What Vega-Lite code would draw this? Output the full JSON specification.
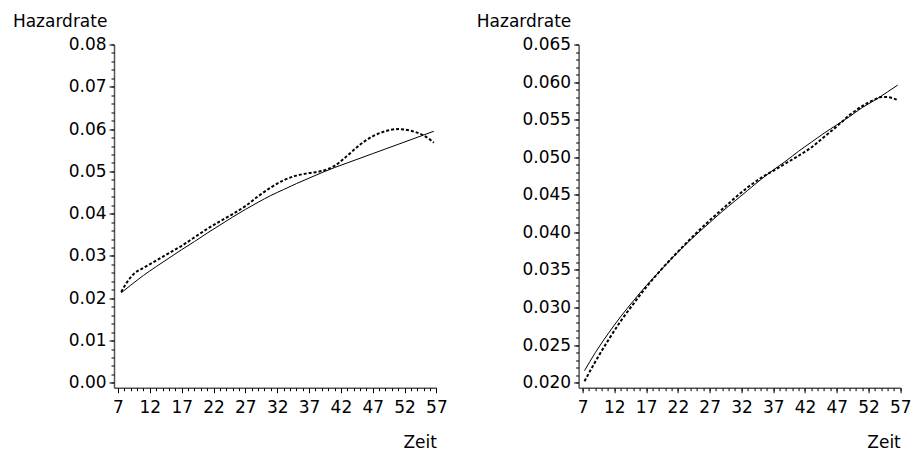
{
  "$schema": "https://vega.github.io/schema/vega-lite/v6.json",
  "background": "white",
  "padding": {"left": 12, "top": 12.5, "right": 6, "bottom": 4},
  "bounds": "flush",
  "spacing": 141.6,
  "config": {
    "font": "DejaVu Sans",
    "view": {"stroke": null},
    "axis": {
      "grid": false,
      "labelFont": "DejaVu Sans",
      "labelFontSize": 17,
      "labelColor": "black",
      "titleFont": "DejaVu Sans",
      "titleFontSize": 17,
      "titleFontWeight": "normal",
      "titleColor": "black",
      "domainColor": "#555555",
      "domainWidth": 1.5,
      "tickColor": "black",
      "tickWidth": 1
    }
  },
  "datasets": {
    "left": [
      {"t": 7.5, "h": 0.0213, "s": "solid"},
      {"t": 9, "h": 0.0231, "s": "solid"},
      {"t": 11, "h": 0.0254, "s": "solid"},
      {"t": 13, "h": 0.0275, "s": "solid"},
      {"t": 15, "h": 0.0295, "s": "solid"},
      {"t": 17, "h": 0.0315, "s": "solid"},
      {"t": 19, "h": 0.0334, "s": "solid"},
      {"t": 21, "h": 0.0354, "s": "solid"},
      {"t": 23, "h": 0.0373, "s": "solid"},
      {"t": 25, "h": 0.0392, "s": "solid"},
      {"t": 27, "h": 0.0410, "s": "solid"},
      {"t": 29, "h": 0.0427, "s": "solid"},
      {"t": 31, "h": 0.0443, "s": "solid"},
      {"t": 33, "h": 0.0457, "s": "solid"},
      {"t": 35, "h": 0.0471, "s": "solid"},
      {"t": 37, "h": 0.0484, "s": "solid"},
      {"t": 39, "h": 0.0497, "s": "solid"},
      {"t": 41, "h": 0.0509, "s": "solid"},
      {"t": 43, "h": 0.0520, "s": "solid"},
      {"t": 45, "h": 0.0531, "s": "solid"},
      {"t": 47, "h": 0.0542, "s": "solid"},
      {"t": 49, "h": 0.0553, "s": "solid"},
      {"t": 51, "h": 0.0564, "s": "solid"},
      {"t": 53, "h": 0.0575, "s": "solid"},
      {"t": 55, "h": 0.0586, "s": "solid"},
      {"t": 56.6, "h": 0.0595, "s": "solid"},
      {"t": 7.5, "h": 0.0215, "s": "dotted"},
      {"t": 8.5, "h": 0.0240, "s": "dotted"},
      {"t": 9.6, "h": 0.0259, "s": "dotted"},
      {"t": 11, "h": 0.0272, "s": "dotted"},
      {"t": 13, "h": 0.0289, "s": "dotted"},
      {"t": 15, "h": 0.0307, "s": "dotted"},
      {"t": 17, "h": 0.0324, "s": "dotted"},
      {"t": 19, "h": 0.0344, "s": "dotted"},
      {"t": 21, "h": 0.0364, "s": "dotted"},
      {"t": 23, "h": 0.0382, "s": "dotted"},
      {"t": 25, "h": 0.0399, "s": "dotted"},
      {"t": 27, "h": 0.0418, "s": "dotted"},
      {"t": 29, "h": 0.0441, "s": "dotted"},
      {"t": 31, "h": 0.0462, "s": "dotted"},
      {"t": 33, "h": 0.0479, "s": "dotted"},
      {"t": 35, "h": 0.0490, "s": "dotted"},
      {"t": 37, "h": 0.0496, "s": "dotted"},
      {"t": 39, "h": 0.0501, "s": "dotted"},
      {"t": 41, "h": 0.0513, "s": "dotted"},
      {"t": 43, "h": 0.0537, "s": "dotted"},
      {"t": 45, "h": 0.0563, "s": "dotted"},
      {"t": 47, "h": 0.0583, "s": "dotted"},
      {"t": 49, "h": 0.0595, "s": "dotted"},
      {"t": 51, "h": 0.0600, "s": "dotted"},
      {"t": 53, "h": 0.0596, "s": "dotted"},
      {"t": 55, "h": 0.0585, "s": "dotted"},
      {"t": 56.6, "h": 0.0568, "s": "dotted"}
    ],
    "right": [
      {"t": 7.3, "h": 0.0216, "s": "solid"},
      {"t": 9, "h": 0.0240, "s": "solid"},
      {"t": 11, "h": 0.0265, "s": "solid"},
      {"t": 13, "h": 0.0288, "s": "solid"},
      {"t": 15, "h": 0.0309, "s": "solid"},
      {"t": 17, "h": 0.0329, "s": "solid"},
      {"t": 19, "h": 0.0347, "s": "solid"},
      {"t": 21, "h": 0.0365, "s": "solid"},
      {"t": 23, "h": 0.0382, "s": "solid"},
      {"t": 25, "h": 0.0398, "s": "solid"},
      {"t": 27, "h": 0.0413, "s": "solid"},
      {"t": 29, "h": 0.0428, "s": "solid"},
      {"t": 31, "h": 0.0442, "s": "solid"},
      {"t": 33, "h": 0.0456, "s": "solid"},
      {"t": 35, "h": 0.0470, "s": "solid"},
      {"t": 37, "h": 0.0483, "s": "solid"},
      {"t": 39, "h": 0.0495, "s": "solid"},
      {"t": 41, "h": 0.0508, "s": "solid"},
      {"t": 43, "h": 0.0520, "s": "solid"},
      {"t": 45, "h": 0.0532, "s": "solid"},
      {"t": 47, "h": 0.0543, "s": "solid"},
      {"t": 49, "h": 0.0554, "s": "solid"},
      {"t": 51, "h": 0.0566, "s": "solid"},
      {"t": 53, "h": 0.0576, "s": "solid"},
      {"t": 55, "h": 0.0587, "s": "solid"},
      {"t": 56.6, "h": 0.0596, "s": "solid"},
      {"t": 7.3, "h": 0.0202, "s": "dotted"},
      {"t": 9, "h": 0.0228, "s": "dotted"},
      {"t": 11, "h": 0.0256, "s": "dotted"},
      {"t": 13, "h": 0.0282, "s": "dotted"},
      {"t": 15, "h": 0.0305, "s": "dotted"},
      {"t": 17, "h": 0.0327, "s": "dotted"},
      {"t": 19, "h": 0.0347, "s": "dotted"},
      {"t": 21, "h": 0.03655, "s": "dotted"},
      {"t": 23, "h": 0.0383, "s": "dotted"},
      {"t": 25, "h": 0.0400, "s": "dotted"},
      {"t": 27, "h": 0.0416, "s": "dotted"},
      {"t": 29, "h": 0.0431, "s": "dotted"},
      {"t": 31, "h": 0.0446, "s": "dotted"},
      {"t": 33, "h": 0.0460, "s": "dotted"},
      {"t": 35, "h": 0.0472, "s": "dotted"},
      {"t": 37, "h": 0.0482, "s": "dotted"},
      {"t": 39, "h": 0.0492, "s": "dotted"},
      {"t": 41, "h": 0.0502, "s": "dotted"},
      {"t": 43, "h": 0.0513, "s": "dotted"},
      {"t": 45, "h": 0.0527, "s": "dotted"},
      {"t": 47, "h": 0.0541, "s": "dotted"},
      {"t": 49, "h": 0.0556, "s": "dotted"},
      {"t": 51, "h": 0.0568, "s": "dotted"},
      {"t": 53, "h": 0.0577, "s": "dotted"},
      {"t": 54, "h": 0.0580, "s": "dotted"},
      {"t": 55, "h": 0.0580, "s": "dotted"},
      {"t": 56, "h": 0.0578, "s": "dotted"},
      {"t": 56.6, "h": 0.0576, "s": "dotted"}
    ]
  },
  "hconcat": [
    {
      "width": 322.4,
      "height": 343.2,
      "data": {"name": "left"},
      "layer": [
        {
          "transform": [{"filter": "datum.s == 'solid'"}],
          "mark": {"type": "line", "color": "black", "strokeWidth": 1, "interpolate": "monotone"},
          "encoding": {
            "x": {
              "field": "t", "type": "quantitative",
              "scale": {"domain": [6.37, 57], "nice": false, "zero": false},
              "axis": {
                "orient": "bottom",
                "values": [7, 12, 17, 22, 27, 32, 37, 42, 47, 52, 57],
                "tickSize": 5, "labelPadding": 7, "labelFlush": false,
                "title": "Zeit", "titleAlign": "right", "titleAnchor": null,
                "titleX": 322.4, "titleY": 60, "titleBaseline": "alphabetic"
              }
            },
            "y": {
              "field": "h", "type": "quantitative",
              "scale": {"domain": [-0.00114, 0.08], "nice": false, "zero": false},
              "axis": {
                "orient": "left",
                "values": [0, 0.01, 0.02, 0.03, 0.04, 0.05, 0.06, 0.07, 0.08],
                "format": ".2f", "tickSize": 5, "labelPadding": 3, "labelFlush": false,
                "title": "Hazardrate", "titleAngle": 0, "titleAlign": "left",
                "titleBaseline": "alphabetic", "titleAnchor": null,
                "titleX": -101.6, "titleY": -17.5
              }
            }
          }
        },
        {
          "transform": [{"filter": "datum.s == 'dotted'"}],
          "mark": {"type": "line", "color": "black", "strokeWidth": 2, "strokeDash": [3, 2], "interpolate": "monotone"},
          "encoding": {
            "x": {
              "field": "t", "type": "quantitative",
              "axis": {
                "orient": "bottom",
                "values": [7, 8, 9, 10, 11, 12, 13, 14, 15, 16, 17, 18, 19, 20, 21, 22, 23, 24, 25, 26, 27, 28, 29, 30, 31, 32, 33, 34, 35, 36, 37, 38, 39, 40, 41, 42, 43, 44, 45, 46, 47, 48, 49, 50, 51, 52, 53, 54, 55, 56, 57],
                "tickSize": 3, "labels": false, "domain": false, "title": null
              }
            },
            "y": {
              "field": "h", "type": "quantitative",
              "axis": {
                "orient": "left",
                "values": [0, 0.002, 0.004, 0.006, 0.008, 0.01, 0.012, 0.014, 0.016, 0.018, 0.02, 0.022, 0.024, 0.026, 0.028, 0.03, 0.032, 0.034, 0.036, 0.038, 0.04, 0.042, 0.044, 0.046, 0.048, 0.05, 0.052, 0.054, 0.056, 0.058, 0.06, 0.062, 0.064, 0.066, 0.068, 0.07, 0.072, 0.074, 0.076, 0.078, 0.08],
                "tickSize": 3, "labels": false, "domain": false, "title": null
              }
            }
          }
        }
      ],
      "resolve": {"axis": {"x": "independent", "y": "independent"}}
    },
    {
      "width": 321.7,
      "height": 343.2,
      "data": {"name": "right"},
      "layer": [
        {
          "transform": [{"filter": "datum.s == 'solid'"}],
          "mark": {"type": "line", "color": "black", "strokeWidth": 1, "interpolate": "monotone"},
          "encoding": {
            "x": {
              "field": "t", "type": "quantitative",
              "scale": {"domain": [6.37, 57], "nice": false, "zero": false},
              "axis": {
                "orient": "bottom",
                "values": [7, 12, 17, 22, 27, 32, 37, 42, 47, 52, 57],
                "tickSize": 5, "labelPadding": 7, "labelFlush": false,
                "title": "Zeit", "titleAlign": "right", "titleAnchor": null,
                "titleX": 321.7, "titleY": 60, "titleBaseline": "alphabetic"
              }
            },
            "y": {
              "field": "h", "type": "quantitative",
              "scale": {"domain": [0.01934, 0.065], "nice": false, "zero": false},
              "axis": {
                "orient": "left",
                "values": [0.02, 0.025, 0.03, 0.035, 0.04, 0.045, 0.05, 0.055, 0.06, 0.065],
                "format": ".3f", "tickSize": 5, "labelPadding": 3, "labelFlush": false,
                "title": "Hazardrate", "titleAngle": 0, "titleAlign": "left",
                "titleBaseline": "alphabetic", "titleAnchor": null,
                "titleX": -102.3, "titleY": -17.5
              }
            }
          }
        },
        {
          "transform": [{"filter": "datum.s == 'dotted'"}],
          "mark": {"type": "line", "color": "black", "strokeWidth": 2, "strokeDash": [3, 2], "interpolate": "monotone"},
          "encoding": {
            "x": {
              "field": "t", "type": "quantitative",
              "axis": {
                "orient": "bottom",
                "values": [7, 8, 9, 10, 11, 12, 13, 14, 15, 16, 17, 18, 19, 20, 21, 22, 23, 24, 25, 26, 27, 28, 29, 30, 31, 32, 33, 34, 35, 36, 37, 38, 39, 40, 41, 42, 43, 44, 45, 46, 47, 48, 49, 50, 51, 52, 53, 54, 55, 56, 57],
                "tickSize": 3, "labels": false, "domain": false, "title": null
              }
            },
            "y": {
              "field": "h", "type": "quantitative",
              "axis": {
                "orient": "left",
                "values": [0.02, 0.021, 0.022, 0.023, 0.024, 0.025, 0.026, 0.027, 0.028, 0.029, 0.03, 0.031, 0.032, 0.033, 0.034, 0.035, 0.036, 0.037, 0.038, 0.039, 0.04, 0.041, 0.042, 0.043, 0.044, 0.045, 0.046, 0.047, 0.048, 0.049, 0.05, 0.051, 0.052, 0.053, 0.054, 0.055, 0.056, 0.057, 0.058, 0.059, 0.06, 0.061, 0.062, 0.063, 0.064, 0.065],
                "tickSize": 3, "labels": false, "domain": false, "title": null
              }
            }
          }
        }
      ],
      "resolve": {"axis": {"x": "independent", "y": "independent"}}
    }
  ]
}
